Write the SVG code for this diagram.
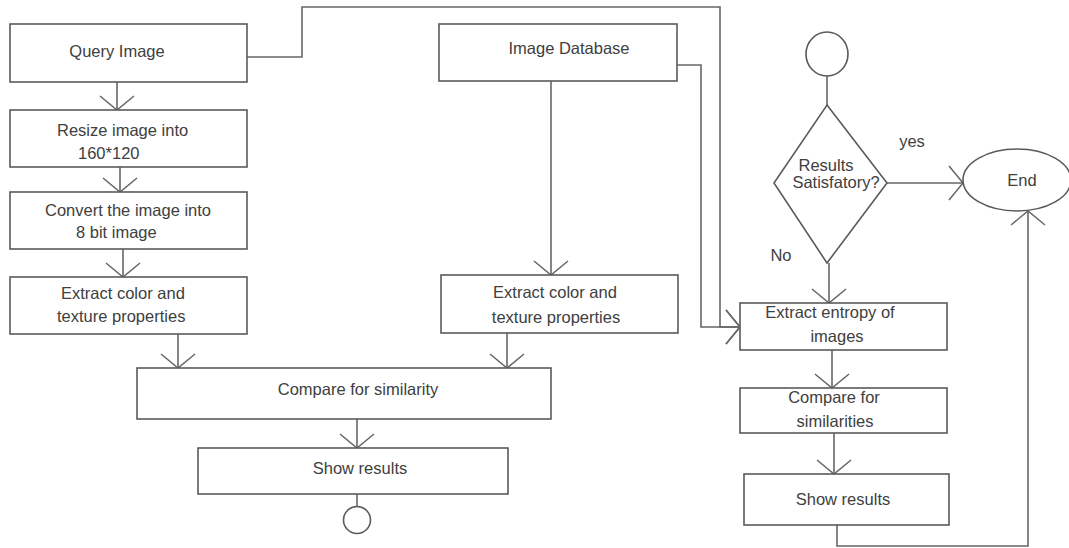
<svg xmlns="http://www.w3.org/2000/svg" width="1069" height="548" viewBox="0 0 1069 548">
<style>
.box{fill:#fff;stroke:#5a5a5a;stroke-width:1.6}
.ln{fill:none;stroke:#666;stroke-width:1.6}
.t{font-family:"Liberation Sans",Arial,sans-serif;font-size:16.5px;fill:#404040}
.c{text-anchor:middle}
</style>
<defs>
<marker id="arr" markerUnits="userSpaceOnUse" markerWidth="40" markerHeight="40" refX="20" refY="20" orient="auto" viewBox="0 0 40 40">
<path d="M6,3 L20,20 L6,37" fill="none" stroke="#666" stroke-width="1.5"/>
</marker>
</defs>
<rect width="1069" height="548" fill="#fff"/>
<g id="connectors">
<path class="ln" d="M117,82 V110" marker-end="url(#arr)"/>
<path class="ln" d="M120,167 V192" marker-end="url(#arr)"/>
<path class="ln" d="M123,249 V277" marker-end="url(#arr)"/>
<path class="ln" d="M178,334 V368" marker-end="url(#arr)"/>
<path class="ln" d="M551,81 V275" marker-end="url(#arr)"/>
<path class="ln" d="M507,333 V368" marker-end="url(#arr)"/>
<path class="ln" d="M357,419 V448" marker-end="url(#arr)"/>
<path class="ln" d="M357,494 V507"/>
<path class="ln" d="M247,57 H302 V7 H720 V327 H740" marker-end="url(#arr)"/>
<path class="ln" d="M677,65 H701 V327 H740" marker-end="url(#arr)"/>
<path class="ln" d="M827,75 V105"/>
<path class="ln" d="M887,183 H963" marker-end="url(#arr)"/>
<path class="ln" d="M829,263 V303" marker-end="url(#arr)"/>
<path class="ln" d="M832,350 V388" marker-end="url(#arr)"/>
<path class="ln" d="M834,433 V474" marker-end="url(#arr)"/>
<path class="ln" d="M837,525 V546 H1028 V211" marker-end="url(#arr)"/>
</g>
<g id="query-image">
<rect class="box" x="10" y="24" width="237" height="58"/>
<text class="t c" x="117" y="57">Query Image</text>
</g>
<g id="resize">
<rect class="box" x="10" y="110" width="237" height="57"/>
<text class="t" x="57" y="136">Resize image into</text>
<text class="t" x="78" y="159">160*120</text>
</g>
<g id="convert">
<rect class="box" x="10" y="192" width="237" height="57"/>
<text class="t" x="45" y="216">Convert the image into</text>
<text class="t" x="76" y="238">8 bit image</text>
</g>
<g id="extract-left">
<rect class="box" x="10" y="277" width="237" height="57"/>
<text class="t" x="61" y="299">Extract color and</text>
<text class="t" x="57" y="322">texture properties</text>
</g>
<g id="image-database">
<rect class="box" x="439" y="24" width="238" height="57"/>
<text class="t c" x="569" y="54">Image Database</text>
</g>
<g id="extract-right">
<rect class="box" x="441" y="275" width="237" height="58"/>
<text class="t c" x="555" y="298">Extract color and</text>
<text class="t c" x="556" y="323">texture properties</text>
</g>
<g id="compare">
<rect class="box" x="137" y="368" width="414" height="51"/>
<text class="t c" x="358" y="395">Compare for similarity</text>
</g>
<g id="show-left">
<rect class="box" x="198" y="448" width="310" height="46"/>
<text class="t c" x="360" y="474">Show results</text>
</g>
<g id="end-left">
<circle class="box" cx="357" cy="520" r="13.5"/>
</g>
<g id="start">
<ellipse class="box" cx="827" cy="54" rx="21" ry="22"/>
</g>
<g id="decision">
<polygon class="box" points="827,105 887,183 827,263 774,183"/>
<text class="t c" x="826" y="171">Results</text>
<text class="t c" x="836" y="188">Satisfatory?</text>
</g>
<g id="labels">
<text class="t c" x="912" y="147">yes</text>
<text class="t c" x="781" y="261">No</text>
</g>
<g id="end">
<ellipse class="box" cx="1017" cy="180" rx="54" ry="31"/>
<text class="t c" x="1022" y="186">End</text>
</g>
<g id="entropy">
<rect class="box" x="740" y="303" width="207" height="47"/>
<text class="t c" x="830" y="318">Extract entropy of</text>
<text class="t c" x="837" y="342">images</text>
</g>
<g id="compare-right">
<rect class="box" x="740" y="388" width="207" height="45"/>
<text class="t c" x="834" y="403">Compare for</text>
<text class="t c" x="835" y="427">similarities</text>
</g>
<g id="show-right">
<rect class="box" x="744" y="474" width="205" height="51"/>
<text class="t c" x="843" y="505">Show results</text>
</g>
</svg>
